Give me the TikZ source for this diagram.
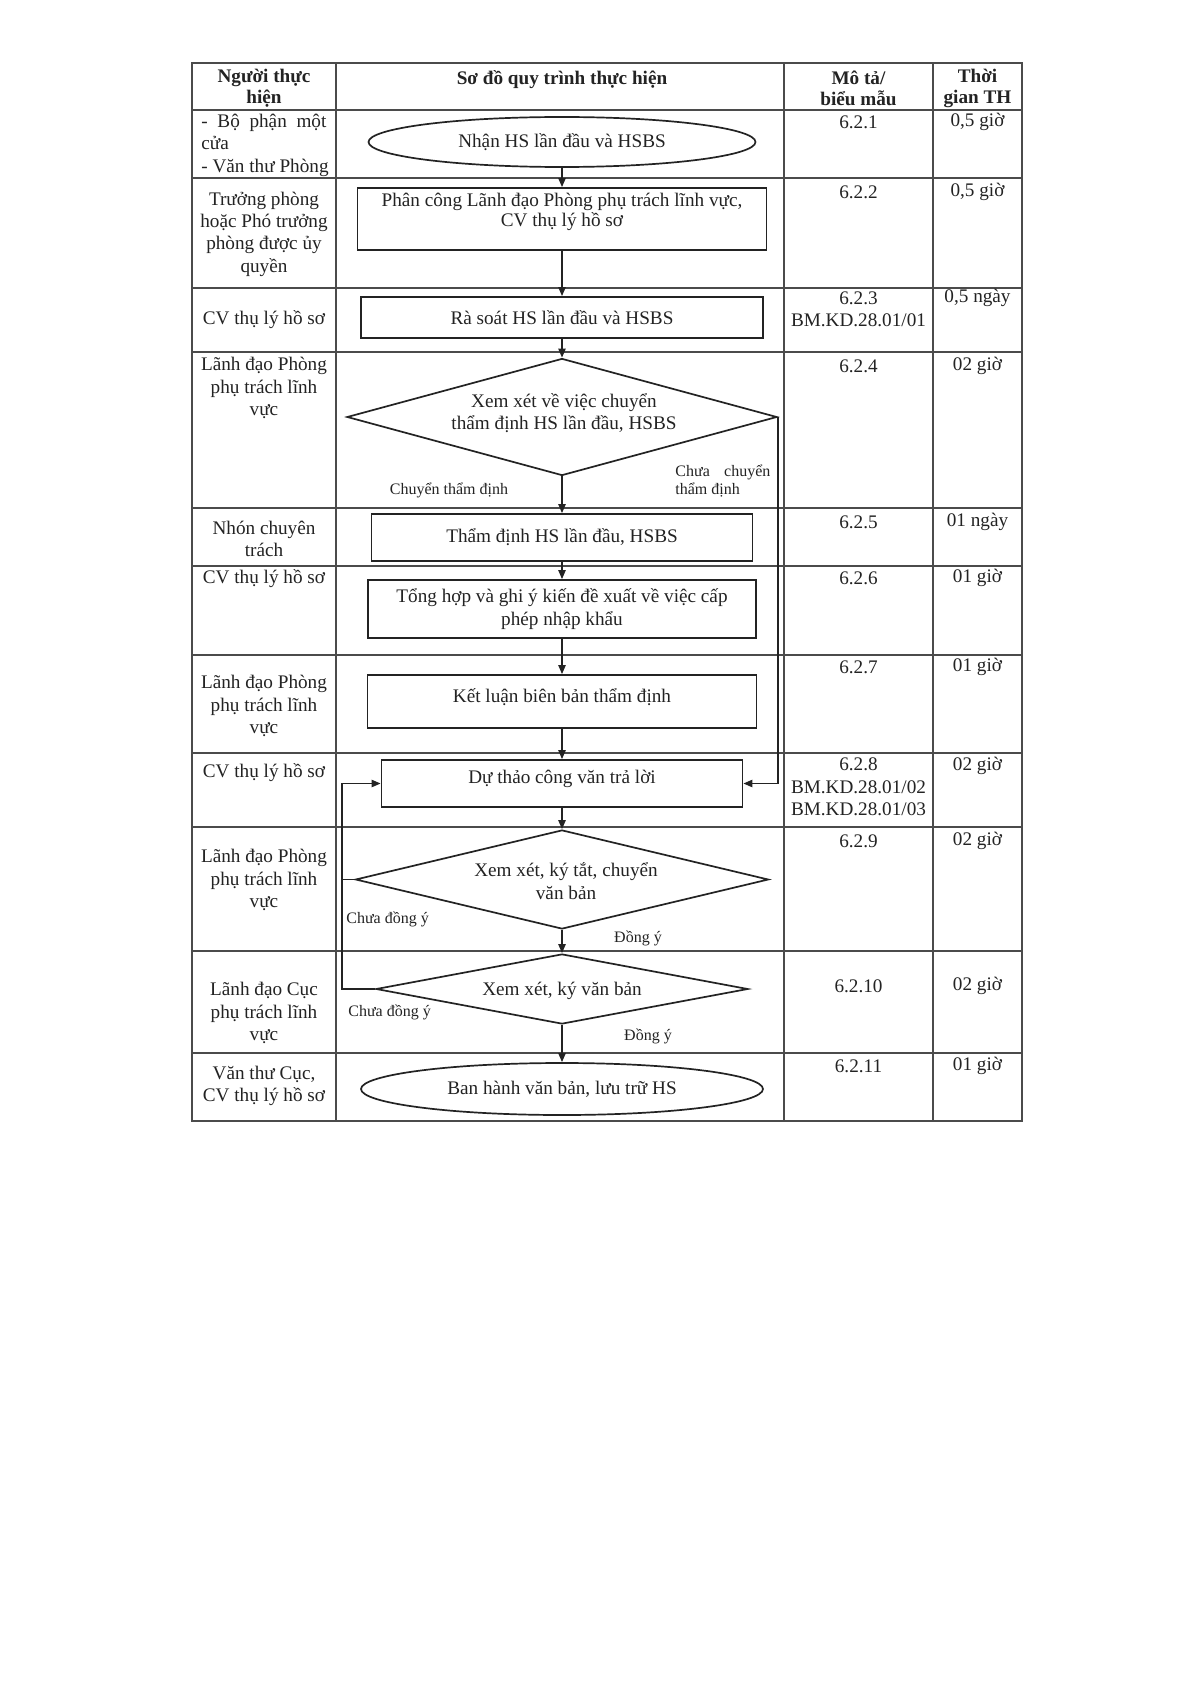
\documentclass[tikz,border=0pt]{standalone}
\usepackage{fontspec}
\setmainfont{Liberation Serif}
\usetikzlibrary{arrows.meta,shapes.geometric}
\definecolor{ink}{RGB}{35,35,35}
\definecolor{rulecol}{RGB}{75,75,75}
\begin{document}
\begin{tikzpicture}[x=0.5pt,y=-0.5pt,
  every node/.style={font=\fontsize{9.6}{11.2}\selectfont, text=ink, inner sep=0pt},
  grid/.style={draw=rulecol, line width=0.75pt},
  shapebox/.style={draw=ink, line width=0.85pt, rectangle, inner sep=0pt, align=center},
  oval/.style={draw=ink, line width=0.85pt, ellipse, inner sep=0pt},
  decision/.style={draw=ink, line width=0.85pt, diamond, inner sep=0pt},
  flow/.style={draw=ink, line width=0.85pt, -{Triangle[length=4.5pt,width=3.6pt]}},
  plain/.style={draw=ink, line width=0.85pt},
  lbl/.style={font=\fontsize{8}{9}\selectfont},
  hdr/.style={font=\bfseries\fontsize{9.6}{10.4}\selectfont, align=center},
  cell/.style={align=center},
]
\fill[white] (0,0) rectangle (1191,1685);
\useasboundingbox (0,0) rectangle (1191,1685);

% table
\draw[grid] (192,63) rectangle (1022,1121);
\foreach \xx in {336,784,933} \draw[grid] (\xx,63) -- (\xx,1121);
\foreach \yy in {110,178,288,352,508,566,655,753,827,951,1053} \draw[grid] (192,\yy) -- (1022,\yy);

% headers
\node[hdr] (h1) at (264,88.5) {Người thực\\hiện};
\node[hdr] (h2) at (562,80) {Sơ đồ quy trình thực hiện};
\node[hdr] (h3) at (858.5,88.5) {Mô tả/\\biểu mẫu};
\node[hdr] (h4) at (977.5,88.5) {Thời\\gian TH};

% column 1
\node[align=left, anchor=west] (p1) at (201,145) {\makebox[62.5pt][s]{- Bộ phận một}\\cửa\\- Văn thư Phòng};
\node[cell] (p2) at (264,234) {Trưởng phòng\\hoặc Phó trưởng\\phòng được ủy\\quyền};
\node[cell] (p3) at (264,320) {CV thụ lý hồ sơ};
\node[cell] (p4) at (264,388) {Lãnh đạo Phòng\\phụ trách lĩnh\\vực};
\node[cell] (p5) at (264,539) {Nhón chuyên\\trách};
\node[cell] (p6) at (264,579) {CV thụ lý hồ sơ};
\node[cell] (p7) at (264,706) {Lãnh đạo Phòng\\phụ trách lĩnh\\vực};
\node[cell] (p8) at (264,773) {CV thụ lý hồ sơ};
\node[cell] (p9) at (264,880) {Lãnh đạo Phòng\\phụ trách lĩnh\\vực};
\node[cell] (p10) at (264,1013) {Lãnh đạo Cục\\phụ trách lĩnh\\vực};
\node[cell] (p11) at (264,1086) {Văn thư Cục,\\CV thụ lý hồ sơ};

% column 3
\node[cell] (m1) at (858.5,122) {6.2.1};
\node[cell] (m2) at (858.5,192) {6.2.2};
\node[cell] (m3) at (858.5,309) {6.2.3\\BM.KD.28.01/01};
\node[cell] (m4) at (858.5,366) {6.2.4};
\node[cell] (m5) at (858.5,522) {6.2.5};
\node[cell] (m6) at (858.5,578) {6.2.6};
\node[cell] (m7) at (858.5,667) {6.2.7};
\node[cell] (m8) at (858.5,787) {6.2.8\\BM.KD.28.01/02\\BM.KD.28.01/03};
\node[cell] (m9) at (858.5,841) {6.2.9};
\node[cell] (m10) at (858.5,986) {6.2.10};
\node[cell] (m11) at (858.5,1066) {6.2.11};

% column 4
\node[cell] (t1) at (977.5,122) {0,5 giờ};
\node[cell] (t2) at (977.5,192) {0,5 giờ};
\node[cell] (t3) at (977.5,298) {0,5 ngày};
\node[cell] (t4) at (977.5,366) {02 giờ};
\node[cell] (t5) at (977.5,522) {01 ngày};
\node[cell] (t6) at (977.5,578) {01 giờ};
\node[cell] (t7) at (977.5,667) {01 giờ};
\node[cell] (t8) at (977.5,766) {02 giờ};
\node[cell] (t9) at (977.5,841) {02 giờ};
\node[cell] (t10) at (977.5,986) {02 giờ};
\node[cell] (t11) at (977.5,1066) {01 giờ};

% flowchart shapes
\node[oval, minimum width=193.5pt, minimum height=25pt] (n1) at (562,142) {Nhận HS lần đầu và HSBS};
\node[shapebox, minimum width=204.5pt, minimum height=31pt] (n2) at (562,219) {};
\node[cell, font=\fontsize{9.6}{10.2}\selectfont] (n2t) at (562,212) {Phân công Lãnh đạo Phòng phụ trách lĩnh vực,\\CV thụ lý hồ sơ};
\node[shapebox, minimum width=201pt, minimum height=20.5pt] (n3) at (562,317.5) {Rà soát HS lần đầu và HSBS};
\node[decision, minimum width=215pt, minimum height=58.5pt] (n4) at (562,417) {};
\node[cell] (n4t) at (564,413) {Xem xét về việc chuyển\\thẩm định HS lần đầu, HSBS};
\node[shapebox, minimum width=190.5pt, minimum height=23.5pt] (n5) at (562,537.5) {Thẩm định HS lần đầu, HSBS};
\node[shapebox, minimum width=194pt, minimum height=29pt] (n6) at (562,609) {Tổng hợp và ghi ý kiến đề xuất về việc cấp\\phép nhập khẩu};
\node[shapebox, minimum width=194.5pt, minimum height=26.5pt] (n7) at (562,701.5) {};
\node[cell] (n7t) at (562,697) {Kết luận biên bản thẩm định};
\node[shapebox, minimum width=180.5pt, minimum height=23.5pt] (n8) at (562,783.5) {};
\node[cell] (n8t) at (562,779) {Dự thảo công văn trả lời};
\node[decision, minimum width=206.5pt, minimum height=49.5pt] (n9) at (562,879.5) {};
\node[cell] (n9t) at (566,881) {Xem xét, ký tắt, chuyển\\văn bản};
\node[decision, minimum width=186pt, minimum height=35pt] (n10) at (562,989) {};
\node[cell] (n10t) at (562,991) {Xem xét, ký văn bản};
\node[oval, minimum width=201pt, minimum height=26pt] (n11) at (562,1089) {Ban hành văn bản, lưu trữ HS};

% connectors
\draw[flow] (n1.south) -- (n2.north);
\draw[flow] (n2.south) -- (n3.north);
\draw[flow] (n3.south) -- (n4.north);
\draw[flow] (n4.south) -- (n5.north);
\draw[flow] (n5.south) -- (n6.north);
\draw[flow] (n6.south) -- (n7.north);
\draw[flow] (n7.south) -- (n8.north);
\draw[flow] (n8.south) -- (n9.north);
\draw[flow] (n9.south) -- (n10.north);
\draw[flow] (n10.south) -- (n11.north);
\draw[flow] (n4.east) -- (n4.east |- n8.east) -- (n8.east);
\coordinate (lp) at (342,783.5);
\draw[flow] (n10.west) -- (n10.west -| lp) -- (lp) -- (n8.west);
\draw[plain] (n9.west) -- (n9.west -| lp);

% connector labels
\node[lbl] (l1) at (449,490) {Chuyển thẩm định};
\node[lbl, align=left, anchor=west] (l2) at (675,481) {\makebox[47.5pt][s]{Chưa chuyển}\\thẩm định};
\node[lbl, anchor=west] (l3) at (346,919) {Chưa đồng ý};
\node[lbl] (l4) at (638,938) {Đồng ý};
\node[lbl, anchor=west] (l5) at (348,1012) {Chưa đồng ý};
\node[lbl] (l6) at (648,1036) {Đồng ý};
\end{tikzpicture}
\end{document}
